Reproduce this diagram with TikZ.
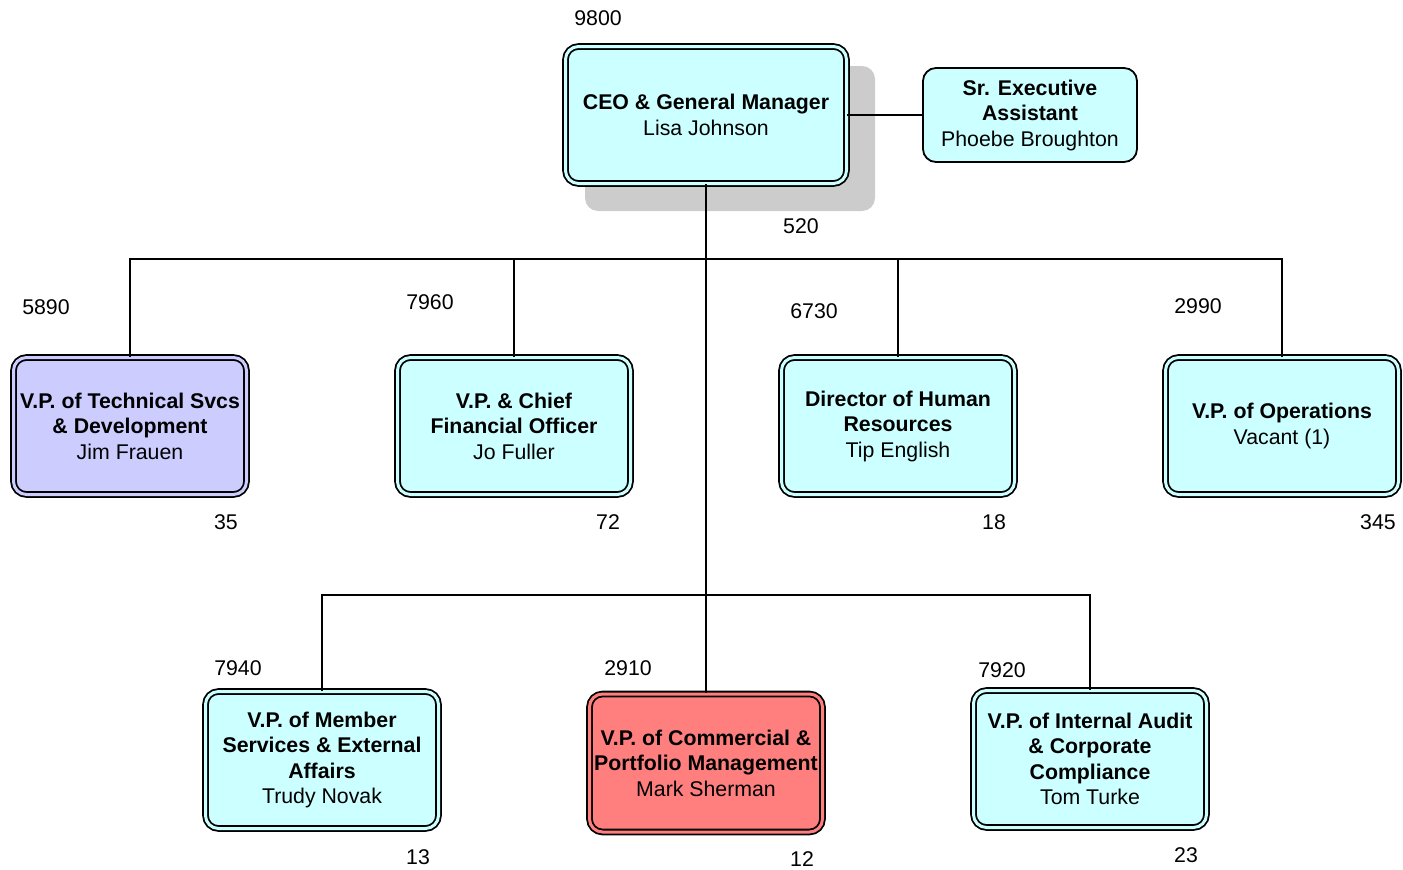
\documentclass[tikz,border=0pt]{standalone}
\usepackage{fontspec}
\setmainfont{Liberation Sans}
\definecolor{boxc}{HTML}{CCFFFF}
\definecolor{lavc}{HTML}{CCCCFF}
\definecolor{redc}{HTML}{FF7F7F}
\definecolor{shadc}{HTML}{CCCCCC}
\tikzset{
  orgbox/.style={draw=black, line width=1.8pt, double=#1, double distance=3pt, fill=#1,
    rounded corners=13pt, minimum width=233pt, minimum height=137pt, inner sep=0pt,
    align=center, font=\fontsize{21.3}{25.5}\selectfont},
  plainbox/.style={draw=black, line width=1.8pt, fill=boxc, rounded corners=13pt,
    minimum width=214pt, minimum height=94pt, inner sep=0pt,
    align=center, font=\fontsize{21.3}{25.5}\selectfont},
  num/.style={font=\fontsize{21.3}{24}\selectfont, inner sep=0pt},
  conn/.style={line width=2pt, draw=black}
}
\begin{document}
\begin{tikzpicture}[x=1pt,y=-1pt]
\useasboundingbox (0,0) rectangle (1403,870);
% shadow of CEO box
\fill[shadc, rounded corners=13pt] (585,66) rectangle (875,211);
\coordinate (bus1) at (706,259);
\coordinate (bus2) at (706,595);
\node[orgbox=boxc, minimum width=281pt] (ceo) at (706,115) {\textbf{CEO \& General Manager}\\Lisa Johnson};
\node[plainbox] (asst) at (1030,115) {\textbf{Sr. Executive}\\\textbf{Assistant}\\Phoebe Broughton};
\node[orgbox=lavc] (tech) at (130,426) {\textbf{V.P. of Technical Svcs}\\\textbf{\& Development}\\Jim Frauen};
\node[orgbox=boxc] (cfo) at (514,426) {\textbf{V.P. \& Chief}\\\textbf{Financial Officer}\\Jo Fuller};
\node[orgbox=boxc] (hr) at (898,426) {\textbf{Director of Human}\\\textbf{Resources}\\Tip English};
\node[orgbox=boxc] (ops) at (1282,426) {\textbf{V.P. of Operations}\\Vacant (1)};
\node[orgbox=boxc] (mem) at (322,760) {\textbf{V.P. of Member}\\\textbf{Services \& External}\\\textbf{Affairs}\\Trudy Novak};
\node[orgbox=redc, minimum height=138pt] (com) at (706,763) {\textbf{V.P. of Commercial \&}\\\textbf{Portfolio Management}\\Mark Sherman};
\node[orgbox=boxc] (aud) at (1090,759) {\textbf{V.P. of Internal Audit}\\\textbf{\& Corporate}\\\textbf{Compliance}\\Tom Turke};
\draw[conn] (ceo.east) -- (asst.west);
\draw[conn] (ceo.south) -- (com.north);
\draw[conn] (tech.north) |- (bus1);
\draw[conn] (ops.north) |- (bus1);
\draw[conn] (cfo.north) -- (cfo.north |- bus1);
\draw[conn] (hr.north) -- (hr.north |- bus1);
\draw[conn] (mem.north) |- (bus2);
\draw[conn] (aud.north) |- (bus2);
% numbers
\node[num] (n1) at (598,18) {9800};
\node[num] (n2) at (801,226) {520};
\node[num] (n3) at (46,307) {5890};
\node[num] (n4) at (430,302) {7960};
\node[num] (n5) at (814,311) {6730};
\node[num] (n6) at (1198,306) {2990};
\node[num] (n7) at (226,522) {35};
\node[num] (n8) at (608,522) {72};
\node[num] (n9) at (994,522) {18};
\node[num] (n10) at (1378,522) {345};
\node[num] (n11) at (238,668) {7940};
\node[num] (n12) at (628,668) {2910};
\node[num] (n13) at (1002,670) {7920};
\node[num] (n14) at (418,857) {13};
\node[num] (n15) at (802,859) {12};
\node[num] (n16) at (1186,855) {23};
\end{tikzpicture}
\end{document}
